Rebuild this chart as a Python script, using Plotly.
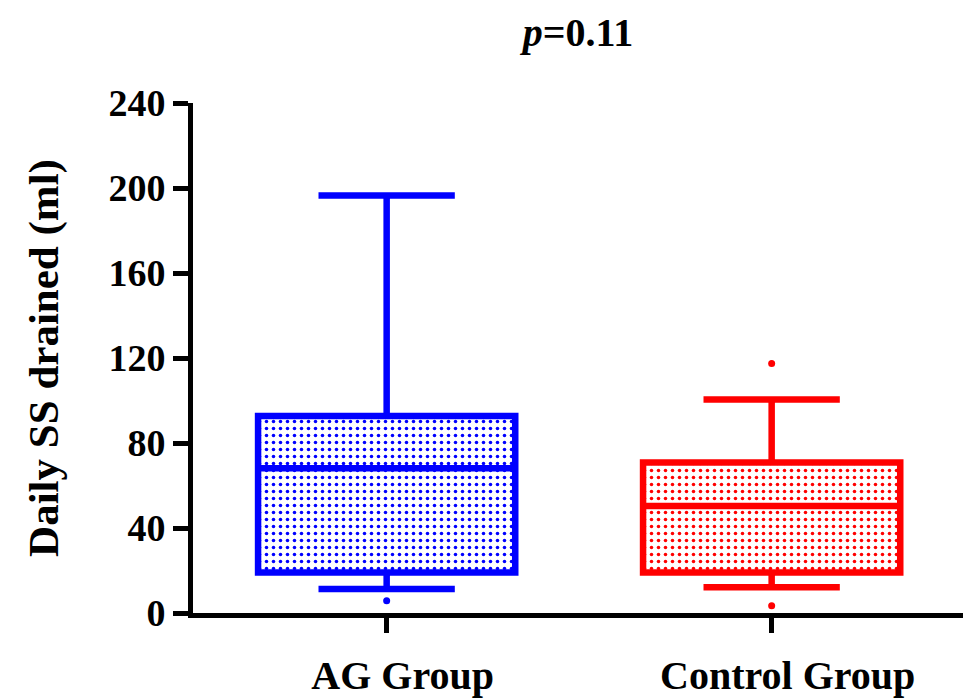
import plotly.graph_objects as go

categories = ["AG Group", "Control Group"]
q1 = [19.1, 19.1]
median = [68.1, 50.4]
q3 = [92.7, 70.8]
lower_whisker = [11.3, 12.1]
upper_whisker = [196.5, 100.5]
outlier_groups = ["AG Group", "Control Group", "Control Group"]
outlier_values = [5.8, 117.4, 3.4]
colors = ["#0000FF", "#FF0000"]
y_ticks = [0, 40, 80, 120, 160, 200, 240]

FONT = "Liberation Serif, Times New Roman, serif"
BOXW = 0.668

fig = go.Figure()

# dotted fill of each box (pattern)
for i, cat in enumerate(categories):
    fig.add_trace(go.Bar(
        x=[cat], y=[q3[i] - q1[i]], base=[q1[i]], width=BOXW,
        marker=dict(color="white", line=dict(width=0),
                    pattern=dict(shape=".", fgcolor=colors[i], bgcolor="white",
                                 size=7, solidity=0.2, fillmode="replace")),
        showlegend=False, hoverinfo="skip",
    ))

# box outlines
for i, cat in enumerate(categories):
    fig.add_trace(go.Box(
        x=[cat], q1=[q1[i]], median=[median[i]], q3=[q3[i]],
        lowerfence=[lower_whisker[i]], upperfence=[upper_whisker[i]],
        width=BOXW, whiskerwidth=0.53, boxpoints=False,
        fillcolor="rgba(0,0,0,0)", line=dict(color=colors[i], width=6.5),
        showlegend=False,
    ))

# outliers
out_colors = [colors[categories.index(g)] for g in outlier_groups]
fig.add_trace(go.Scatter(
    x=outlier_groups, y=outlier_values, mode="markers",
    marker=dict(color=out_colors, size=7), showlegend=False,
))

fig.update_layout(
    width=963, height=700,
    paper_bgcolor="white", plot_bgcolor="white",
    margin=dict(l=193, r=0, t=103, b=87),
    barmode="overlay", boxmode="overlay",
    font=dict(family=FONT, color="black"),
    title=dict(text="<i>p</i>=0.11", x=0.5, xref="paper", y=0.955, yref="container",
               xanchor="center", yanchor="middle",
               font=dict(family=FONT, size=40, color="black", weight="bold")),
)

fig.update_xaxes(
    type="category", categoryorder="array", categoryarray=categories,
    range=[-0.503, 1.497],
    showline=True, linecolor="black", linewidth=5,
    ticks="outside", ticklen=15, tickwidth=5, tickcolor="black",
    showgrid=False, zeroline=False,
    tickfont=dict(family=FONT, size=40, color="black", weight="bold"),
    ticklabelshift=16, ticklabelstandoff=8,
)

fig.update_yaxes(
    range=[0, 240], tickmode="array", tickvals=y_ticks,
    ticktext=[str(v) for v in y_ticks],
    showline=True, linecolor="black", linewidth=5,
    ticks="outside", ticklen=15, tickwidth=5, tickcolor="black",
    showgrid=False, zeroline=False,
    tickfont=dict(family=FONT, size=38, color="black", weight="bold"),
    title=dict(text="Daily SS drained (ml)", standoff=38,
               font=dict(family=FONT, size=43, color="black", weight="bold")),
)

fig.write_html("out.html", config={"displayModeBar": False},
               post_script="document.body.style.margin='0';")
